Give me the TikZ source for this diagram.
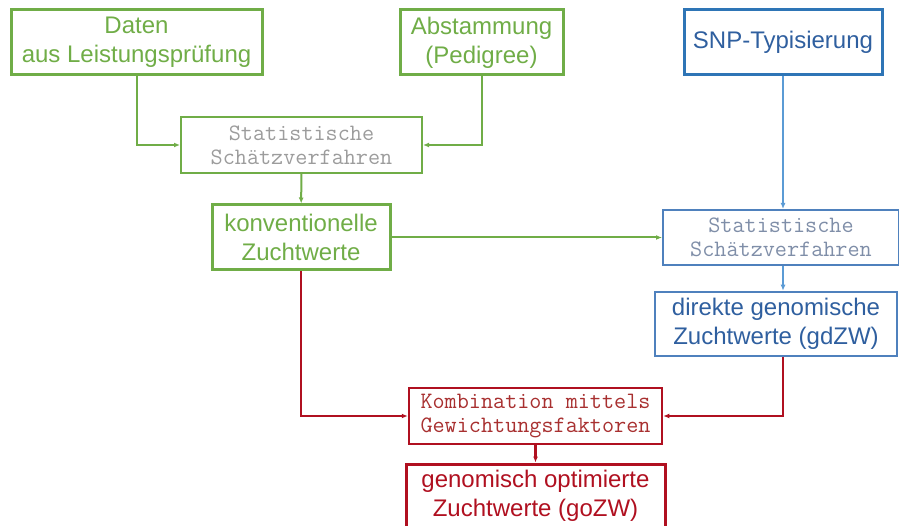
\documentclass[tikz,border=0pt]{standalone}
\usepackage{fontspec}
\setmainfont{Liberation Sans}
\usetikzlibrary{arrows.meta, positioning}
\definecolor{zwgreen}{HTML}{70AD47}
\definecolor{zwgrey}{HTML}{9C9C9C}
\definecolor{zwblue}{HTML}{2E75B6}
\definecolor{zwbluetext}{HTML}{2F5F9F}
\definecolor{zwsoftblue}{HTML}{4F81BD}
\definecolor{zwlightblue}{HTML}{5B9BD5}
\definecolor{zwgreyblue}{HTML}{7F8EA8}
\definecolor{zwred}{HTML}{B01020}
\definecolor{zwredtext}{HTML}{A83030}

\begin{document}
\begin{tikzpicture}[
    x=1pt, y=-1pt,
    source/.style={rectangle, draw=zwgreen, line width=3pt, text=zwgreen, inner sep=0pt, align=center, font=\fontsize{24}{29}\selectfont},
    method/.style={rectangle, draw=zwgreen, line width=2pt, text=zwgrey, inner sep=0pt, align=center, font=\ttfamily\fontsize{23.5}{24}\selectfont},
    gsource/.style={source, draw=zwblue, text=zwbluetext},
    gmethod/.style={method, draw=zwsoftblue, text=zwgreyblue},
    gresult/.style={source, draw=zwsoftblue, line width=2.5pt, text=zwbluetext},
    cmethod/.style={method, draw=zwred, line width=2.5pt, text=zwredtext},
    cresult/.style={source, draw=zwred, text=zwred},
    garrow/.style={-{Latex[length=6pt,width=5pt]}, line width=2pt, zwgreen},
    barrow/.style={-{Latex[length=6pt,width=5pt]}, line width=2pt, zwlightblue},
    rarrow/.style={-{Latex[length=6pt,width=5pt]}, line width=2.2pt, zwred}
]
\useasboundingbox (0,0) rectangle (899,526);

% Konventionelle Seite
\node[source, minimum width=251pt, minimum height=65pt] (daten) at (136.5,42.5) {Daten\\aus Leistungsprüfung};
\node[source, minimum width=163pt, minimum height=65pt] (abst) at (481.5,42.5) {Abstammung\\(Pedigree)};
\node[method, minimum width=241pt, minimum height=56pt] (stat_k) at (301.5,145) {Statistische\\Schätzverfahren};
\node[source, minimum width=178pt, minimum height=65pt] (konv) at (301,237.5) {konventionelle\\Zuchtwerte};

% Genomische Seite
\node[gsource, minimum width=198pt, minimum height=65pt] (snp) at (783,42.5) {SNP-Typisierung};
\node[gmethod, minimum width=236pt, minimum height=55pt] (stat_g) at (781,237.5) {Statistische\\Schätzverfahren};
\node[gresult, minimum width=242pt, minimum height=64pt] (direkt) at (776,324) {direkte genomische\\Zuchtwerte (gdZW)};

% Kombination
\node[cmethod, minimum width=253pt, minimum height=56pt] (komb) at (535.5,416) {Kombination mittels\\Gewichtungsfaktoren};
\node[cresult, minimum width=259pt, minimum height=64pt] (geno) at (535.5,496) {genomisch optimierte\\Zuchtwerte (goZW)};

% Verbindungen
\draw[garrow] (daten.south) |- (stat_k.west);
\draw[garrow] (abst.south) |- (stat_k.east);
\draw[garrow] (stat_k) -- (konv);
\draw[garrow] (konv) -- (stat_g);

\draw[barrow] (snp.south) -- (snp.south |- stat_g.north);
\draw[barrow] (stat_g.south -| snp.south) -- (direkt.north -| snp.south);

\draw[rarrow] (konv.south) |- (komb.west);
\draw[rarrow] (direkt.south -| snp.south) |- (komb.east);
\draw[rarrow] (komb) -- (geno);
\end{tikzpicture}
\end{document}
